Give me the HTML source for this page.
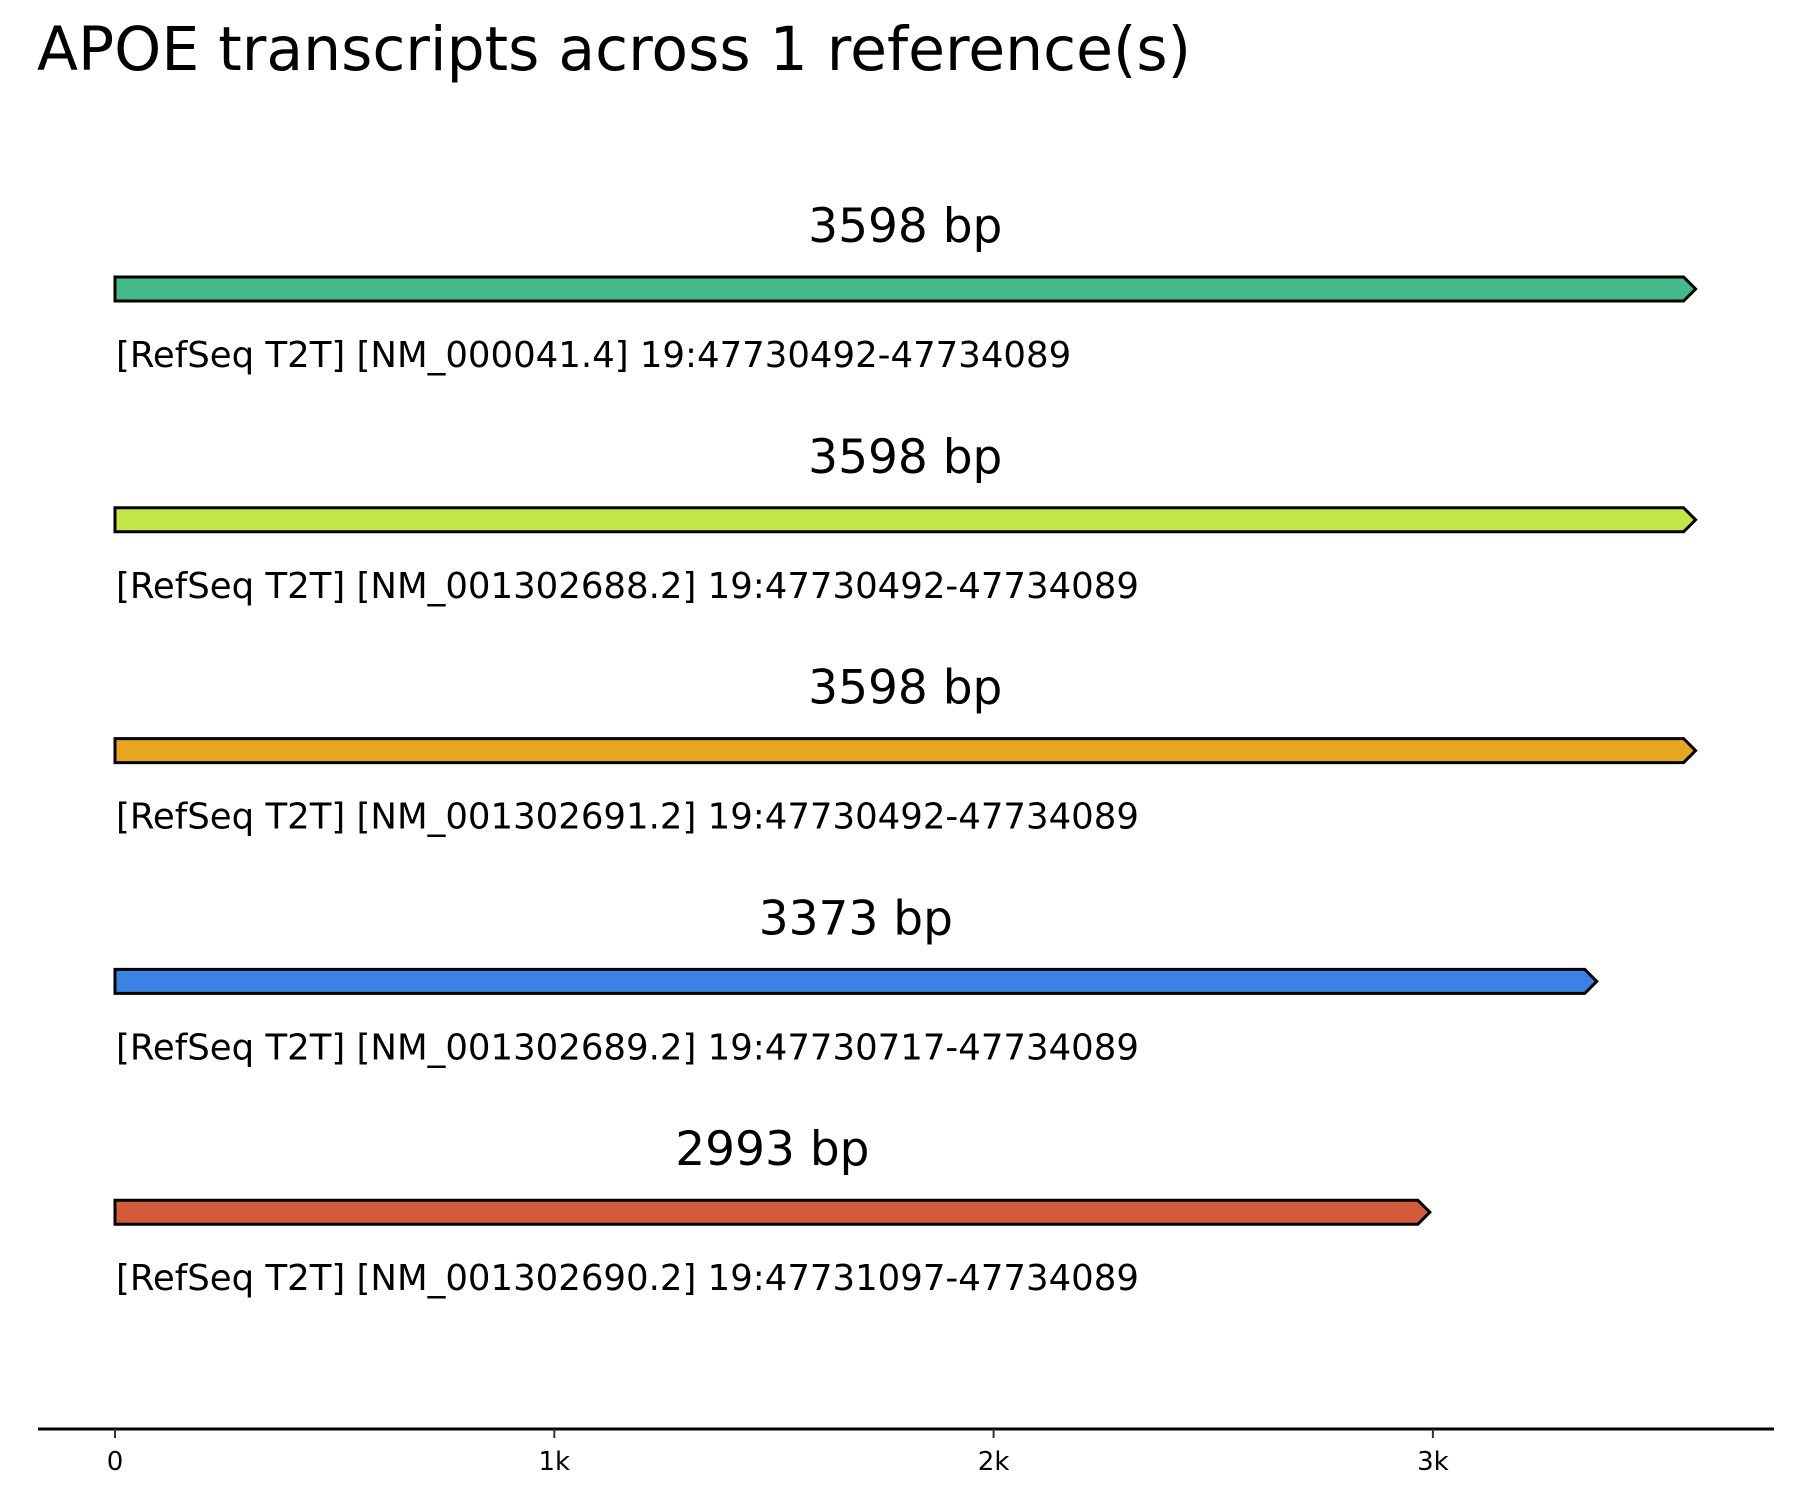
<!DOCTYPE html>
<html><head><meta charset="utf-8"><style>html,body{margin:0;padding:0;background:#fff}svg{display:block}text{font-family:"DejaVu Sans","Liberation Sans",sans-serif;fill:#000}</style></head>
<body>
<svg id="chart" width="1800" height="1500" xmlns="http://www.w3.org/2000/svg">
<text x="37" y="70" font-size="61" textLength="1154" lengthAdjust="spacingAndGlyphs">APOE transcripts across 1 reference(s)</text>
<g id="tracks"></g>
<line x1="38" y1="1429" x2="1774" y2="1429" stroke="#000" stroke-width="3"/>
<g id="ticks"></g>
</svg>
<script>
const lengths = [3598, 3598, 3598, 3373, 2993];
const labels = ["[RefSeq T2T] [NM_000041.4] 19:47730492-47734089","[RefSeq T2T] [NM_001302688.2] 19:47730492-47734089","[RefSeq T2T] [NM_001302691.2] 19:47730492-47734089","[RefSeq T2T] [NM_001302689.2] 19:47730717-47734089","[RefSeq T2T] [NM_001302690.2] 19:47731097-47734089"];
const colors = ["#43b98c","#c3e647","#e6a620","#3a82e6","#d35b3a"];
const tickValues = [0, 1000, 2000, 3000];
const tickLabels = ["0","1k","2k","3k"];
const NS="http://www.w3.org/2000/svg";
function xs(v){return 115 + v*0.4393;}
function yTop(i){return 277 + i*230.8;}
const tracks=document.getElementById('tracks');
lengths.forEach((len,i)=>{
  const y=yTop(i), h=24, x0=xs(0), x1=xs(len), head=12;
  const p=document.createElementNS(NS,'path');
  p.setAttribute('d',`M${x0},${y} L${x1-head},${y} L${x1},${y+h/2} L${x1-head},${y+h} L${x0},${y+h} Z`);
  p.setAttribute('fill',colors[i]);p.setAttribute('stroke','#000');p.setAttribute('stroke-width','3');p.setAttribute('stroke-linejoin','miter');
  
  
  tracks.appendChild(p);
  const t=document.createElementNS(NS,'text');
  t.setAttribute('x',(x0+x1)/2);t.setAttribute('y',y-35);t.setAttribute('font-size','47');t.setAttribute('text-anchor','middle');
  t.textContent=len+' bp';
  
  
  tracks.appendChild(t);
  const l=document.createElementNS(NS,'text');
  l.setAttribute('x',116);l.setAttribute('y',y+90);l.setAttribute('font-size','35.5');
  l.textContent=labels[i];
  
  
  tracks.appendChild(l);
});
const ticks=document.getElementById('ticks');
tickValues.forEach((v,i)=>{
  const x=xs(v);
  const ln=document.createElementNS(NS,'line');
  ln.setAttribute('x1',x);ln.setAttribute('x2',x);ln.setAttribute('y1',1429);ln.setAttribute('y2',1438);ln.setAttribute('stroke','#333');ln.setAttribute('stroke-width','2');
  
  
  ticks.appendChild(ln);
  const t=document.createElementNS(NS,'text');
  t.setAttribute('x',x);t.setAttribute('y',1470);t.setAttribute('font-size','26');t.setAttribute('text-anchor','middle');
  t.textContent=tickLabels[i];
  
  
  ticks.appendChild(t);
});
</script>
</body></html>
